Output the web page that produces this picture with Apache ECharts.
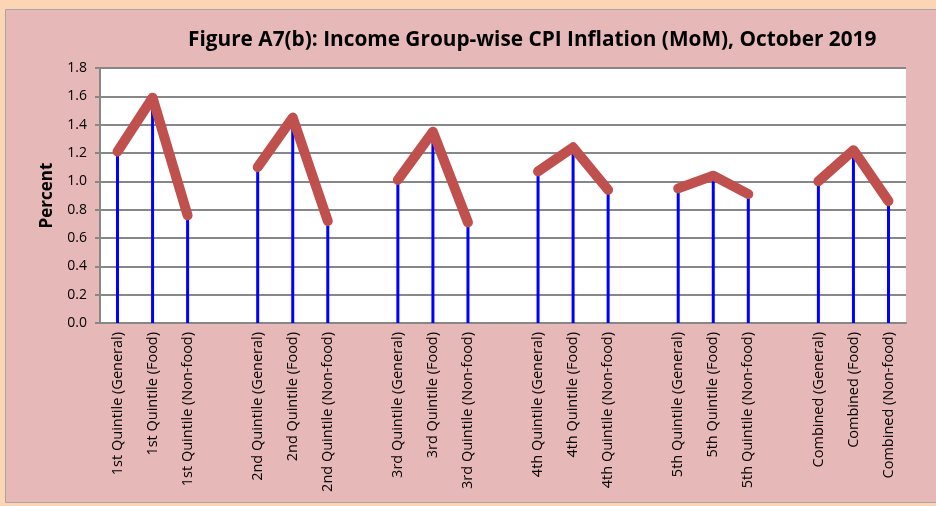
<!DOCTYPE html>
<html>
<head>
<meta charset="utf-8">
<script src="https://cdn.jsdelivr.net/npm/echarts@6/dist/echarts.min.js"></script>
<style>
  html, body { margin: 0; padding: 0; }
  #chart { width: 936px; height: 506px; }
</style>
</head>
<body>
<div id="chart"></div>
<script>
// categories, blank slots separate the groups
const categories = [
  '1st Quintile (General)', '1st Quintile (Food)', '1st Quintile (Non-food)', '',
  '2nd Quintile (General)', '2nd Quintile (Food)', '2nd Quintile (Non-food)', '',
  '3rd Quintile (General)', '3rd Quintile (Food)', '3rd Quintile (Non-food)', '',
  '4th Quintile (General)', '4th Quintile (Food)', '4th Quintile (Non-food)', '',
  '5th Quintile (General)', '5th Quintile (Food)', '5th Quintile (Non-food)', '',
  'Combined (General)', 'Combined (Food)', 'Combined (Non-food)'
];
const inflation = [
  1.21, 1.59, 0.76, null,
  1.10, 1.45, 0.72, null,
  1.01, 1.35, 0.71, null,
  1.07, 1.24, 0.94, null,
  0.95, 1.04, 0.91, null,
  1.00, 1.22, 0.86
];
const yTicks = [0, 0.2, 0.4, 0.6, 0.8, 1.0, 1.2, 1.4, 1.6, 1.8];

const chart = echarts.init(document.getElementById('chart'));
const option = {
  backgroundColor: '#FCD5B4',
  animation: false,
  graphic: [{
    type: 'rect',
    shape: { x: 5.5, y: 9.5, width: 940, height: 493 },
    style: { fill: '#E6B8B7', stroke: '#A6A6A6', lineWidth: 1 },
    z: -10, silent: true
  }],
  title: {
    text: 'Figure A7(b): Income Group-wise CPI Inflation (MoM), October 2019',
    left: 183, top: 25,
    textStyle: { fontFamily: 'Open Sans', fontWeight: 'bold', fontSize: 20.8, color: '#000' }
  },
  grid: {
    left: 100, right: 30, top: 68, bottom: 183,
    show: true, backgroundColor: '#fff', borderWidth: 0
  },
  xAxis: {
    type: 'category',
    data: categories,
    axisLine: { show: true, lineStyle: { color: '#878787', width: 2 } },
    axisTick: { show: false },
    axisLabel: {
      interval: 0, rotate: 90, margin: 9,
      fontFamily: 'Open Sans', fontSize: 14.5, color: '#000'
    }
  },
  yAxis: {
    type: 'value',
    min: 0, max: yTicks[yTicks.length - 1], interval: 0.2,
    name: 'Percent',
    nameLocation: 'middle', nameGap: 44,
    nameTextStyle: { fontFamily: 'Open Sans', fontWeight: 'bold', fontSize: 17, color: '#000' },
    axisLine: { show: true, lineStyle: { color: '#878787', width: 2 } },
    axisTick: { show: true, length: 5, lineStyle: { color: '#878787', width: 2 } },
    axisLabel: {
      formatter: v => v.toFixed(1),
      fontFamily: 'Open Sans', fontSize: 14, color: '#000', margin: 13
    },
    splitLine: { show: true, lineStyle: { color: '#878787', width: 2 } }
  },
  series: [{
    type: 'bar',
    data: inflation,
    barWidth: 3,
    itemStyle: { color: '#0000FF' },
    z: 2
  }, {
    type: 'line',
    data: inflation,
    connectNulls: false,
    symbol: 'none',
    lineStyle: { color: '#C0504D', width: 10, cap: 'round', join: 'round' },
    z: 3
  }]
};
chart.setOption(option);
</script>
</body>
</html>
